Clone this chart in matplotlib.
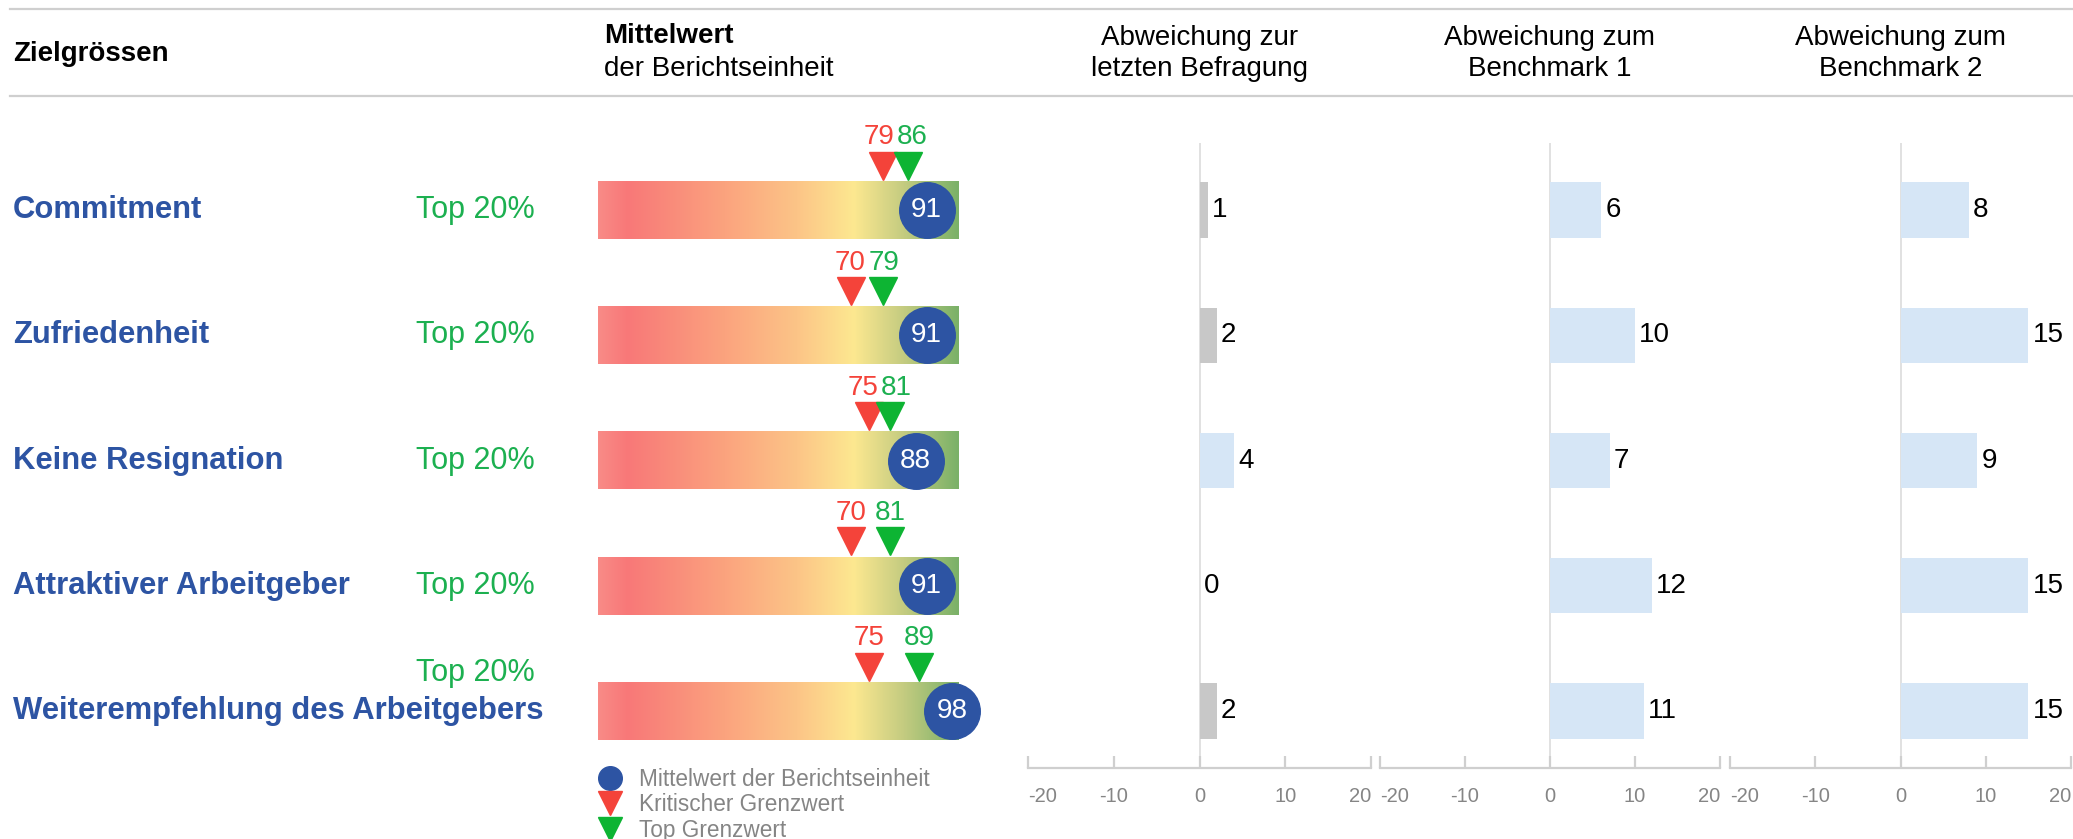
import matplotlib
matplotlib.use("Agg")
import matplotlib.pyplot as plt
import numpy as np
from matplotlib.colors import LinearSegmentedColormap
from matplotlib.lines import Line2D

plt.rcParams["font.family"] = ["Liberation Sans", "DejaVu Sans"]
plt.rcParams["axes.unicode_minus"] = False

# data
targets = ["Commitment", "Zufriedenheit", "Keine Resignation",
           "Attraktiver Arbeitgeber", "Weiterempfehlung des Arbeitgebers"]
rank_labels = ["Top 20%", "Top 20%", "Top 20%", "Top 20%", "Top 20%"]
mean_values = [91, 91, 88, 91, 98]
critical_values = [79, 70, 75, 70, 75]
top_values = [86, 79, 81, 81, 89]

panel_titles = ["Abweichung zur\nletzten Befragung",
                "Abweichung zum\nBenchmark 1",
                "Abweichung zum\nBenchmark 2"]
diff_last = [1, 2, 4, 0, 2]
diff_bench1 = [6, 10, 7, 12, 11]
diff_bench2 = [8, 15, 9, 15, 15]
diff_ticks = [-20, -10, 0, 10, 20]

BLUE = "#2d54a3"
RED = "#f4433a"
GREEN = "#0db433"
TEXT_GREEN = "#1cb050"
GRAY_TXT = "#858585"
LINE_GRAY = "#cfcfcf"
BAR_GRAY = "#c8c8c8"
BAR_BLUE = "#d6e6f6"

W, H = 2073, 839
fig = plt.figure(figsize=(W / 100, H / 100), dpi=100)


def box(x0, y0, x1, y1):
    # pixel box (top-left origin) -> figure fraction rect
    return [x0 / W, 1 - y1 / H, (x1 - x0) / W, (y1 - y0) / H]


AX_TOP, AX_BOT = 143, 768
YLIM = (4.455, -0.535)
rows = np.arange(len(targets))

# header
for ypx in (9, 96):
    fig.add_artist(Line2D([10 / W, 1], [1 - ypx / H] * 2, color=LINE_GRAY, lw=1.6))
fig.text(13 / W, 1 - 54 / H, "Zielgrössen", fontsize=20, fontweight="bold", va="center")
fig.text(604 / W, 1 - 36 / H, "Mittelwert", fontsize=20, fontweight="bold", va="center")
fig.text(604 / W, 1 - 69 / H, "der Berichtseinheit", fontsize=20, va="center")

# labels axis
lab = fig.add_axes(box(0, AX_TOP, 590, AX_BOT))
lab.set_xlim(0, 590)
lab.set_ylim(*YLIM)
lab.axis("off")
for i, (name, rank) in enumerate(zip(targets, rank_labels)):
    lab.text(13, i, name, fontsize=22.3, fontweight="bold", color=BLUE, va="center")
    dy = -0.3 if len(name) > 30 else 0
    lab.text(416, i + dy, rank, fontsize=22, color=TEXT_GREEN, va="center")

# gradient bars
grad = fig.add_axes(box(598, AX_TOP, 959, AX_BOT))
grad.set_xlim(0, 100)
grad.set_ylim(*YLIM)
grad.axis("off")
cmap = LinearSegmentedColormap.from_list("traffic", [
    (0.0, "#f98b87"), (0.08, "#f87878"), (0.35, "#fba37e"),
    (0.55, "#fcc487"), (0.71, "#fde890"), (0.85, "#c3cb80"), (1.0, "#7ab168")])
gvals = np.linspace(0, 1, 256).reshape(1, -1)
bh = 0.46
for i in rows:
    grad.imshow(gvals, cmap=cmap, aspect="auto", extent=(0, 100, i + bh / 2, i - bh / 2),
                zorder=1)
grad.set_ylim(*YLIM)
grad.scatter(mean_values, rows, s=1600, color=BLUE, zorder=3, clip_on=False)
for i, v in enumerate(mean_values):
    grad.text(v, i, str(v), color="white", fontsize=20, ha="center", va="center", zorder=4)
grad.plot(critical_values, rows - 0.355, "v", color=RED, markersize=20, ls="none",
          clip_on=False, zorder=3)
grad.plot(top_values, rows - 0.355, "v", color=GREEN, markersize=20, ls="none",
          clip_on=False, zorder=3)
for i in rows:
    lo, hi = critical_values[i], top_values[i]
    if hi - lo < 10:
        # labels close together: push them apart around the midpoint
        mid = (lo + hi) / 2
        grad.annotate(str(lo), (mid, i - 0.58), xytext=(-1, 0), textcoords="offset points",
                      color=RED, fontsize=20, ha="right", va="center",
                      annotation_clip=False)
        grad.annotate(str(hi), (mid, i - 0.58), xytext=(1, 0), textcoords="offset points",
                      color=TEXT_GREEN, fontsize=20, ha="left", va="center",
                      annotation_clip=False)
    else:
        grad.text(lo, i - 0.58, str(lo), color=RED, fontsize=20, ha="center", va="center")
        grad.text(hi, i - 0.58, str(hi), color=TEXT_GREEN, fontsize=20, ha="center",
                  va="center")

handles = [
    Line2D([], [], marker="o", color=BLUE, ls="none", markersize=17),
    Line2D([], [], marker="v", color=RED, ls="none", markersize=17),
    Line2D([], [], marker="v", color=GREEN, ls="none", markersize=17),
]
fig.legend(handles, ["Mittelwert der Berichtseinheit", "Kritischer Grenzwert", "Top Grenzwert"],
           loc="upper left", bbox_to_anchor=(596 / W, 1 - 768 / H), frameon=False,
           fontsize=16.3, labelcolor=GRAY_TXT, handletextpad=0.7, labelspacing=0.1,
           borderpad=0, handlelength=1.2, borderaxespad=0)

# deviation panels
panels = [(1028, 1371), (1380, 1720), (1730, 2071)]
for (x0, x1), title, vals in zip(panels, panel_titles, [diff_last, diff_bench1, diff_bench2]):
    ax = fig.add_axes(box(x0, AX_TOP, x1, AX_BOT))
    colors = [BAR_GRAY if abs(v) < 3 else BAR_BLUE for v in vals]
    ax.barh(rows, vals, height=0.44, color=colors, zorder=2)
    for i, v in enumerate(vals):
        ax.annotate(str(v), (v, i), xytext=(3, 0), textcoords="offset points",
                    va="center", ha="left", fontsize=20, color="black")
    ax.axvline(0, color="#dcdcdc", lw=1.2, zorder=1)
    ax.set_xlim(-20, 20)
    ax.set_ylim(*YLIM)
    ax.set_xticks(diff_ticks)
    ax.set_yticks([])
    for s in ("top", "right", "left"):
        ax.spines[s].set_visible(False)
    ax.spines["bottom"].set_color(LINE_GRAY)
    ax.spines["bottom"].set_linewidth(1.6)
    ax.tick_params(axis="x", direction="in", length=9, width=1.6, color=LINE_GRAY,
                   labelcolor=GRAY_TXT, labelsize=14.5, pad=14)
    tl = ax.get_xticklabels()
    tl[0].set_horizontalalignment("left")
    tl[-1].set_horizontalalignment("right")
    ax.set_facecolor("none")
    ax.text(0.5, 1 + (AX_TOP - 53) / (AX_BOT - AX_TOP), title, transform=ax.transAxes,
            ha="center", va="center", fontsize=20, linespacing=1.25)

fig.savefig("out.png", dpi=100)
